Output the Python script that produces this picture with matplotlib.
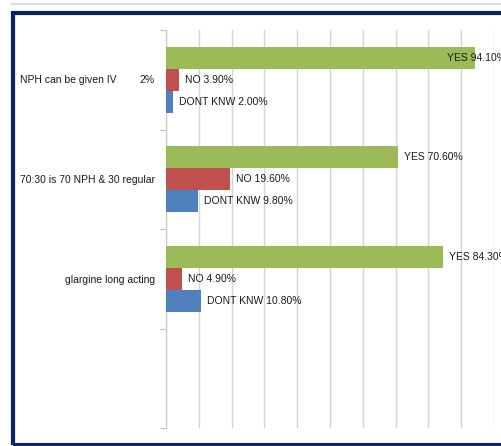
import matplotlib.pyplot as plt
from matplotlib.patches import Rectangle
from matplotlib.lines import Line2D
import numpy as np

# data, top category first (last slot is empty in the original)
categories = ["NPH can be given IV", "70:30 is 70 NPH & 30 regular", "glargine long acting", ""]
yes_vals = [94.1, 70.6, 84.3]
no_vals = [3.9, 19.6, 4.9]
dk_vals = [2.0, 9.8, 10.8]
series_names = ["YES", "NO", "DONT KNW"]
series_colors = ["#9BBB59", "#C0504D", "#4F81BD"]
extra_label = "2%"

plt.rcParams['font.family'] = ['Liberation Sans', 'DejaVu Sans']
fs = 7.5
plt.rcParams['font.size'] = fs

W, H = 501, 446
fig = plt.figure(figsize=(W / 100, H / 100), dpi=100)

# plot area in pixels
left_px, right_px, top_px, bottom_px = 166, 494, 30, 428
ax = fig.add_axes([left_px / W, 1 - bottom_px / H,
                   (right_px - left_px) / W, (bottom_px - top_px) / H])

ypos = np.arange(len(categories))
bar_h = 0.22
offsets = [-0.22, 0.0, 0.22]
all_vals = [yes_vals, no_vals, dk_vals]

for vals, name, col, off in zip(all_vals, series_names, series_colors, offsets):
    ys = ypos[:len(vals)] + off
    ax.barh(ys, vals, height=bar_h, color=col, zorder=3)
    for y, v in zip(ys, vals):
        # labels that would run past the frame get pulled back over the bar
        dx = 6 if v < 90 else -28
        ax.annotate(f"{name} {v:.2f}%", (v, y), xytext=(dx, 0),
                    textcoords="offset pixels", ha="left", va="center",
                    fontsize=fs, color="#1a1a1a", annotation_clip=False,
                    zorder=4)

ax.set_xlim(0, 100)
ax.set_ylim(len(categories) - 0.5, -0.5)
ax.set_xticks(np.arange(0, 101, 10))
ax.tick_params(axis="x", length=0, labelbottom=False)
ax.grid(axis="x", color="#d4d4d4", linewidth=1.0, zorder=0)
for s in ["top", "right", "bottom"]:
    ax.spines[s].set_visible(False)
ax.spines["left"].set_color("#c8c8c8")

ax.set_yticks(ypos)
ax.set_yticklabels([""] + categories[1:])
ax.set_yticks(np.arange(-0.5, len(categories), 1.0), minor=True)
ax.tick_params(axis="y", which="major", length=0, pad=8, labelsize=fs,
               labelcolor="#1a1a1a")
ax.tick_params(axis="y", which="minor", length=4, color="#b0b0b0")

# first category label sits at the far left, with a stray "2%" next to the axis
fig.text(20 / W, 1 - 80 / H, categories[0], ha="left", va="center",
         fontsize=fs, color="#1a1a1a")
fig.text(155 / W, 1 - 80 / H, extra_label, ha="right", va="center",
         fontsize=fs, color="#1a1a1a")

# screenshot frame
fig.add_artist(Line2D([11 / W, 1], [1 - 3.5 / H, 1 - 3.5 / H],
                      color="#d6d6d6", linewidth=1.2))
fig.add_artist(Rectangle((12.5 / W, 1 - 444.5 / H), 520 / W, 432 / H,
                         fill=False, edgecolor="#10216b", linewidth=3,
                         transform=fig.transFigure))

fig.savefig("out.png", dpi=100)
